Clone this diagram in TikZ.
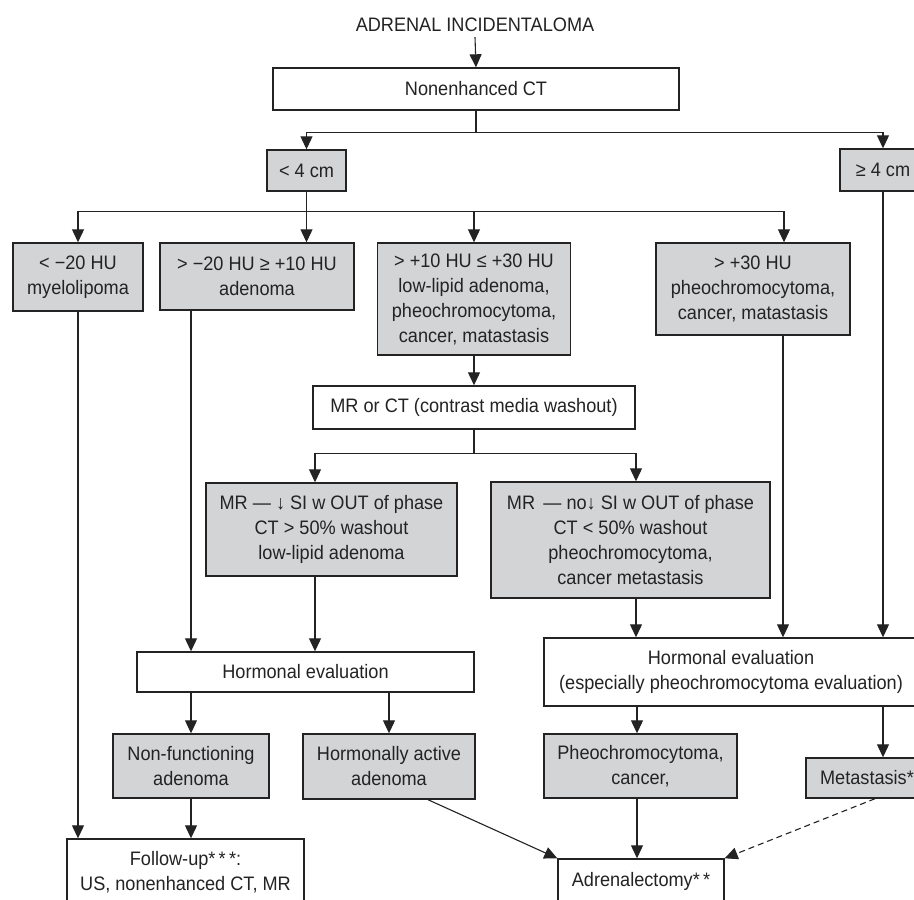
\documentclass[tikz,border=0pt]{standalone}
\usepackage{fontspec}
\setmainfont{Liberation Sans}[FakeStretch=0.93]
\usetikzlibrary{arrows.meta}
\definecolor{boxgray}{RGB}{211,212,214}
\definecolor{ink}{RGB}{35,35,35}
\newcommand{\fs}{\fontsize{19.5pt}{25pt}\selectfont}
\tikzset{
  base/.style={rectangle, draw=ink, line width=1.4pt, inner sep=0pt, align=center, font=\fs, text=ink},
  wbox/.style={base, fill=white},
  gbox/.style={base, fill=boxgray},
  ln/.style={line width=1.1pt, draw=ink},
  arr/.style={ln, -{Triangle[width=12pt,length=13pt]}},
  dashln/.style={arr, dash pattern=on 6pt off 4pt},
}
\begin{document}
\begin{tikzpicture}[x=1pt,y=-1pt]
\useasboundingbox (0,0) rectangle (914,900);
\clip (0,0) rectangle (914,900);
\fill[white] (0,0) rectangle (914,900);

\node[font=\fs, text=ink, inner sep=2pt] (title) at (475,25) {ADRENAL INCIDENTALOMA};
\node[wbox, minimum width=406pt, minimum height=42pt] (ct) at (476,89) {Nonenhanced CT};
\node[gbox, minimum width=79pt, minimum height=41pt] (lt4) at (306.5,170.5) {< 4 cm};
\node[gbox, minimum width=86pt, minimum height=42pt] (ge4) at (883,170) {≥ 4 cm};

\node[gbox, minimum width=130pt, minimum height=68pt] (my) at (78,277) {< −20 HU\\myelolipoma};
\node[gbox, minimum width=194pt, minimum height=67pt] (ad) at (257,276.5) {> −20 HU ≥ +10 HU\\adenoma};
\node[gbox, minimum width=193pt, minimum height=112pt] (mid) at (474,299) {> +10 HU ≤ +30 HU\\low-lipid adenoma,\\pheochromocytoma,\\cancer, matastasis};
\node[gbox, minimum width=194pt, minimum height=92pt] (gt30) at (753,289) {> +30 HU\\pheochromocytoma,\\cancer, matastasis};

\node[wbox, minimum width=322pt, minimum height=43pt] (mrct) at (474,407.5) {MR or CT (contrast media washout)};
\node[gbox, minimum width=251pt, minimum height=93pt] (mrl) at (331.5,529.5) {MR — ↓ SI w OUT of phase\\CT > 50\% washout\\low-lipid adenoma};
\node[gbox, minimum width=279pt, minimum height=116pt] (mrr) at (630.5,540) {MR \,— no↓ SI w OUT of phase\\CT < 50\% washout\\pheochromocytoma,\\cancer metastasis};

\node[wbox, minimum width=337pt, minimum height=40pt] (he1) at (305.5,672) {Hormonal evaluation};
\node[wbox, minimum width=374pt, minimum height=68pt] (he2) at (731,672) {Hormonal evaluation\\(especially pheochromocytoma evaluation)};

\node[gbox, minimum width=156pt, minimum height=64pt] (nf) at (191,766) {Non-functioning\\adenoma};
\node[gbox, minimum width=172pt, minimum height=65pt] (ha) at (389,766.5) {Hormonally active\\adenoma};
\node[gbox, minimum width=193pt, minimum height=64pt] (ph) at (640.5,766) {Pheochromocytoma,\\cancer,};
\node[gbox, minimum width=122pt, minimum height=40pt] (meta) at (867,778) {Metastasis*};

\node[wbox, minimum width=237pt, minimum height=66pt] (fu) at (185.5,872) {Follow-up*\,*\,*:\\US, nonenhanced CT, MR};
\node[wbox, minimum width=166pt, minimum height=44pt] (adr) at (641,881) {Adrenalectomy*\,*};

% connectors
\draw[arr] ([yshift=-3pt]title.south) -- (ct.north);
\path (ct.south) ++(0,22) coordinate (j1);
\draw[ln] (ct.south) -- (j1);
\draw[arr] (j1) -| (lt4.north);
\draw[arr] (j1) -| (ge4.north);

\path (lt4.south) ++(0,20) coordinate (j2);
\draw[ln] (lt4.south) -- (j2);
\draw[arr] (j2) -| (my.north);
\draw[arr] (j2) -- (j2 |- ad.north);
\draw[arr] (j2) -| (mid.north);
\draw[arr] (j2) -| ([xshift=31pt]gt30.north);

\draw[arr] (mid.south) -- (mrct.north);
\path (mrct.south) ++(0,24) coordinate (j3);
\draw[ln] (mrct.south) -- (j3);
\draw[arr] (j3) -| ([xshift=-16.5pt]mrl.north);
\draw[arr] (j3) -| ([xshift=5.5pt]mrr.north);

\draw[arr] (my.south) -- (my.south |- fu.north);
\draw[arr] ([xshift=-66pt]ad.south) -- ([xshift=-66pt]ad.south |- he1.north);
\draw[arr] ([xshift=-16.5pt]mrl.south) -- ([xshift=-16.5pt]mrl.south |- he1.north);
\draw[arr] ([xshift=5.5pt]mrr.south) -- ([xshift=5.5pt]mrr.south |- he2.north);
\draw[arr] ([xshift=30pt]gt30.south) -- ([xshift=30pt]gt30.south |- he2.north);
\draw[arr] (ge4.south) -- (ge4.south |- he2.north);

\draw[arr] (nf.north |- he1.south) -- (nf.north);
\draw[arr] (ha.north |- he1.south) -- (ha.north);
\draw[arr] (nf.south) -- (nf.south |- fu.north);

\draw[arr] ([xshift=-3.5pt]ph.north |- he2.south) -- ([xshift=-3.5pt]ph.north);
\draw[arr] (ge4.south |- he2.south) -- (ge4.south |- meta.north);
\draw[arr] ([xshift=-3.5pt]ph.south) -- ([xshift=-3.5pt]ph.south |- adr.north);
\draw[arr] ([xshift=39pt]ha.south) -- (adr.north west);
\draw[dashln] ([xshift=8pt]meta.south) -- (adr.north east);
\end{tikzpicture}
\end{document}
